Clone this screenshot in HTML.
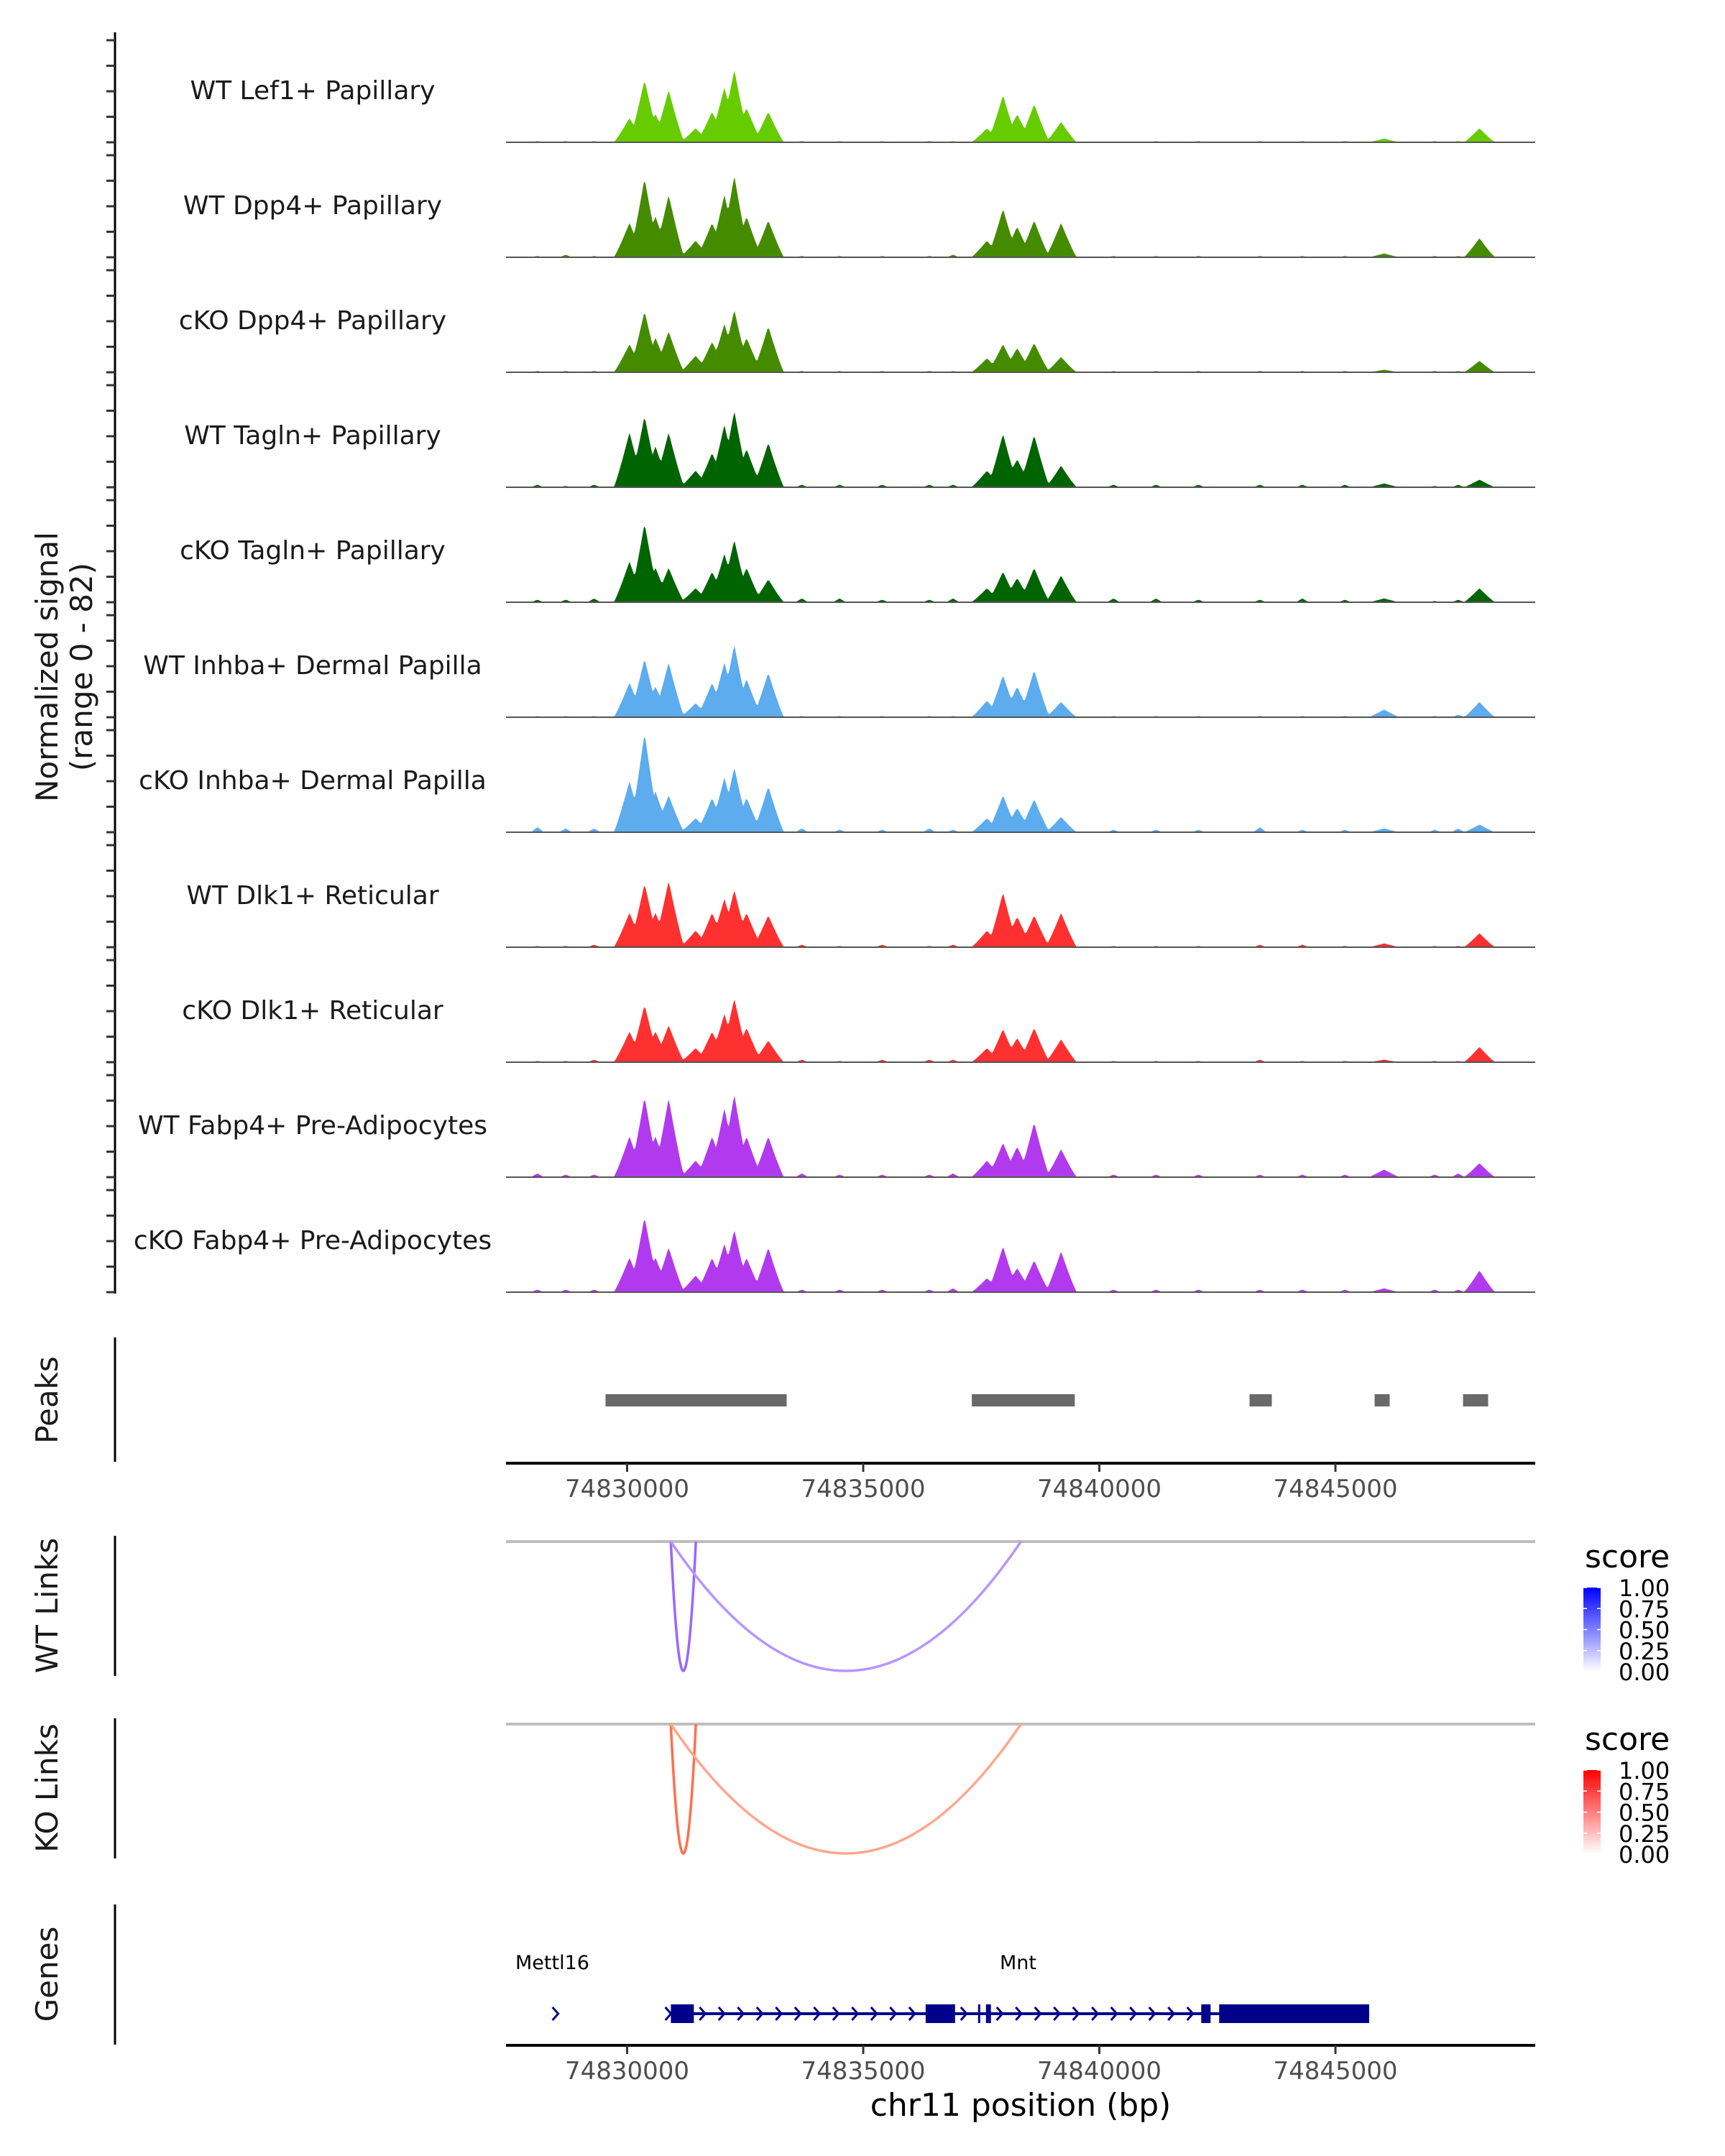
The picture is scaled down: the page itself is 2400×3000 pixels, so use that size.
<!DOCTYPE html>
<html><head><meta charset="utf-8">
<style>
html,body{margin:0;padding:0;background:#fff;}
svg{display:block;font-family:"DejaVu Sans","Liberation Sans",sans-serif;}
</style></head>
<body>
<svg id="chart" width="2400" height="3000" viewBox="0 0 2400 3000" xmlns="http://www.w3.org/2000/svg">
<rect width="2400" height="3000" fill="#fff"/>
<g id="tracks"></g>
<g id="yaxis"></g>
<text transform="translate(80,928) rotate(-90)" text-anchor="middle" font-size="42" fill="#1a1a1a">Normalized signal</text>
<text transform="translate(128,928) rotate(-90)" text-anchor="middle" font-size="42" fill="#1a1a1a">(range 0 - 82)</text>
<g id="peaks"></g>
<g id="links"></g>
<g id="genes"></g>
</svg>
<script>
// ---------- data ----------
const trackNames = ["WT Lef1+ Papillary","WT Dpp4+ Papillary","cKO Dpp4+ Papillary","WT Tagln+ Papillary","cKO Tagln+ Papillary","WT Inhba+ Dermal Papilla","cKO Inhba+ Dermal Papilla","WT Dlk1+ Reticular","cKO Dlk1+ Reticular","WT Fabp4+ Pre-Adipocytes","cKO Fabp4+ Pre-Adipocytes"];
const trackColors = ["#66cc00","#458b00","#458b00","#006400","#006400","#5cacee","#5cacee","#ff3030","#ff3030","#b23aee","#b23aee"];
const peakPositions = [74830050,74830370,74830600,74830880,74831450,74831800,74832060,74832270,74832530,74832990,74837620,74837960,74838260,74838620,74839190,74846030,74848050];
const sigLef1WT  = [19,49,22,41,11,24,43,57,27,24,11,37,22,30,16,3,11];
const sigDpp4WT  = [27,62,32,49,13,27,49,64,32,29,13,38,24,29,27,3,15];
const sigDpp4KO  = [22,48,27,32,13,24,38,49,27,36,11,22,19,23,12,2,9];
const sigTaglnWT = [43,56,32,43,13,27,49,60,30,35,13,42,22,41,17,3,6];
const sigTaglnKO = [32,62,27,27,11,24,38,49,27,18,11,24,19,27,21,3,11];
const sigInhbaWT = [27,46,24,43,11,27,43,57,30,35,13,33,24,37,12,6,12];
const sigInhbaKO = [40,78,32,29,11,27,43,51,27,36,11,29,19,26,12,3,6];
const sigDlk1WT  = [27,50,27,52,13,27,38,45,27,25,13,43,24,25,27,3,11];
const sigDlk1KO  = [24,45,24,29,11,24,38,50,27,17,11,26,19,27,18,2,12];
const sigFabp4WT = [32,63,32,62,13,32,54,65,32,32,13,27,24,43,22,6,11];
const sigFabp4KO = [27,59,27,35,13,27,38,49,27,35,11,36,19,25,32,3,17];
const bgPositions = [74828100,74828700,74829300,74833700,74834500,74835400,74836400,74836900,74840300,74841200,74842100,74843400,74844300,74845200,74847100,74847600];
const bgLef1WT  = [1,1,1,1,1,1,1,1,0,1,1,1,1,1,1,1];
const bgDpp4WT  = [1,2,1,1,1,1,1,2,1,1,1,1,1,1,1,1];
const bgDpp4KO  = [1,1,1,1,1,1,1,1,1,1,1,1,1,1,1,1];
const bgTaglnWT = [2,1,2,2,2,2,2,2,2,2,2,2,2,2,1,2];
const bgTaglnKO = [2,2,3,3,3,2,2,3,3,3,2,2,3,2,1,2];
const bgInhbaWT = [1,1,1,1,1,1,1,1,1,1,1,1,1,1,1,2];
const bgInhbaKO = [4,3,3,3,2,2,3,2,2,2,2,4,2,2,2,3];
const bgDlk1WT  = [1,1,2,2,1,2,1,2,1,1,1,2,2,1,1,1];
const bgDlk1KO  = [1,1,2,2,1,2,2,2,1,1,1,2,1,1,1,1];
const bgFabp4WT = [3,2,2,3,2,2,2,3,2,2,2,2,2,2,2,3];
const bgFabp4KO = [2,2,2,2,2,2,2,3,2,2,2,2,2,2,2,2];
const trackSignals = [sigLef1WT,sigDpp4WT,sigDpp4KO,sigTaglnWT,sigTaglnKO,sigInhbaWT,sigInhbaKO,sigDlk1WT,sigDlk1KO,sigFabp4WT,sigFabp4KO];
const trackBg = [bgLef1WT,bgDpp4WT,bgDpp4KO,bgTaglnWT,bgTaglnKO,bgInhbaWT,bgInhbaKO,bgDlk1WT,bgDlk1KO,bgFabp4WT,bgFabp4KO];
const signalTicks = [0,20,40,60,80];
const xTicks = [74830000,74835000,74840000,74845000];
const xTickLabels = ["74830000","74835000","74840000","74845000"];
const peakStarts = [74829543,74837300,74843181,74845830,74847702];
const peakEnds   = [74833379,74839480,74843653,74846149,74848234];
const linkStarts = [74830925,74830925];
const linkEnds   = [74831456,74838340];
const linkScores = [0.6,0.45];
const wtLinkColors = ["#9966ff","#b794ff"];
const koLinkColors = ["#ff6f4f","#ffa68c"];
const legendTicks = [0,0.25,0.5,0.75,1];
const legendTickLabels = ["0.00","0.25","0.50","0.75","1.00"];
const mntStart = 74830900, mntEnd = 74845714;
const mntExonStarts = [74830927,74836322,74837432,74837599,74842158,74842538];
const mntExonEnds   = [74831413,74836945,74837462,74837705,74842356,74845714];
const mettl16Pos = 74828480;

// ---------- scales ----------
const X0 = 704, X1 = 2136;
const x = bp => 872.5 + (bp - 74830000) * 0.0657;
const base0 = 198, trackStep = 160, pxPerUnit = 1.775;
const NS = "http://www.w3.org/2000/svg";
function mk(tag, attrs, parent){ const e=document.createElementNS(NS,tag); for(const k in attrs) e.setAttribute(k,attrs[k]); parent.appendChild(e); return e; }

// ---------- coverage tracks ----------
const gT = document.getElementById('tracks');
trackNames.forEach((name,i)=>{
  const base = base0 + i*trackStep;
  const g = mk('g',{},gT);
  
  
  const sig = trackSignals[i], bg = trackBg[i];
  let d = `M${X0} ${base}`;
  for(let px=X0; px<=X1; px+=2){
    let v=0;
    peakPositions.forEach((p,k)=>{ const dd=Math.abs(px-x(p))/22; if(dd<1) v=Math.max(v,sig[k]*Math.pow(1-dd,1.15)); });
    bgPositions.forEach((p,k)=>{ const dd=Math.abs(px-x(p))/9; if(dd<1) v=Math.max(v,bg[k]*(1-dd)); });
    d += ` L${px} ${(base - v*pxPerUnit).toFixed(1)}`;
  }
  d += ` L${X1} ${base} Z`;
  const area = mk('path',{d:d,fill:trackColors[i]},g);
  
  
  const bl = mk('line',{x1:X0,x2:X1,y1:base,y2:base,stroke:'#555',"stroke-width":2},g);
  
  
  const t = mk('text',{x:435,y:base-60,"text-anchor":"middle","font-size":36,fill:"#1a1a1a"},g);
  t.textContent = name;
  
  
});

// ---------- y axis ----------
const gY = document.getElementById('yaxis');
const axl = mk('line',{x1:160,x2:160,y1:45,y2:base0+10*trackStep+2,stroke:'#000',"stroke-width":3},gY);


trackNames.forEach((n,i)=>{
  const base = base0 + i*trackStep;
  signalTicks.forEach(v=>{
    const tk = mk('line',{x1:148,x2:160,y1:base-v*pxPerUnit,y2:base-v*pxPerUnit,stroke:'#333',"stroke-width":3},gY);
    
    
  });
});

// ---------- x axis helper ----------
function xAxis(parent, y, name){
  const g = mk('g',{},parent);
  
  
  mk('line',{x1:X0,x2:X1,y1:y,y2:y,stroke:'#000',"stroke-width":4},g);
  xTicks.forEach((t,k)=>{
    mk('line',{x1:x(t),x2:x(t),y1:y,y2:y+12,stroke:'#333',"stroke-width":3},g);
    const lb = mk('text',{x:x(t),y:y+47,"text-anchor":"middle","font-size":34,fill:"#4d4d4d"},g);
    lb.textContent = xTickLabels[k];
    
    
  });
}
function panelLeft(parent, y1, y2, cy, label, name){
  mk('line',{x1:160,x2:160,y1:y1,y2:y2,stroke:'#000',"stroke-width":3},parent);
  const t = mk('text',{transform:`translate(80,${cy}) rotate(-90)`,"text-anchor":"middle","font-size":42,fill:"#1a1a1a"},parent);
  t.textContent = label;
  
  
}

// ---------- peaks ----------
const gP = document.getElementById('peaks');
panelLeft(gP,1861,2034,1948,'Peaks','peaks-title');
peakStarts.forEach((s,k)=>{
  const r = mk('rect',{x:x(s),y:1940,width:x(peakEnds[k])-x(s),height:17,fill:'#696969'},gP);
  
  
});
xAxis(gP,2036,'peaks-x-axis');

// ---------- links ----------
const gL = document.getElementById('links');
function linkPanel(y0, colors, gradTop, label, name, gid){
  const g = mk('g',{},gL);
  
  
  panelLeft(g,y0-8,y0+187,y0+89,label,name+'-title');
  mk('line',{x1:X0,x2:X1,y1:y0,y2:y0,stroke:'#bebebe',"stroke-width":4},g);
  const depth = 180;
  linkStarts.forEach((s,k)=>{
    const a=x(s), b=x(linkEnds[k]);
    const p = mk('path',{d:`M${a} ${y0} Q${(a+b)/2} ${y0+2*depth} ${b} ${y0}`,fill:'none',stroke:colors[k],"stroke-width":3.5},g);
    
    
  });
  const lg = mk('g',{},g);
  
  
  const defs = mk('defs',{},lg);
  const grad = mk('linearGradient',{id:gid,x1:0,y1:1,x2:0,y2:0},defs);
  mk('stop',{offset:'0',"stop-color":'#ffffff'},grad);
  mk('stop',{offset:'1',"stop-color":gradTop},grad);
  const lt = mk('text',{x:2205,y:y0+36,"font-size":44,fill:'#000'},lg);
  lt.textContent='score';
  const top = y0+64, bot = y0+181;
  mk('rect',{x:2203,y:top,width:24,height:bot-top,fill:`url(#${gid})`},lg);
  legendTicks.forEach((v,k)=>{
    const yy = bot - v*(bot-top);
    mk('line',{x1:2203,x2:2208,y1:yy,y2:yy,stroke:'#fff',"stroke-width":1.5},lg);
    mk('line',{x1:2222,x2:2227,y1:yy,y2:yy,stroke:'#fff',"stroke-width":1.5},lg);
    const tt = mk('text',{x:2252,y:yy+12,"font-size":32,fill:'#000'},lg);
    tt.textContent = legendTickLabels[k];
  });
}
linkPanel(2145, wtLinkColors, '#0000ff', 'WT Links', 'wt-links', 'gradWT');
linkPanel(2399, koLinkColors, '#ff0000', 'KO Links', 'ko-links', 'gradKO');

// ---------- genes ----------
const gG = document.getElementById('genes');
panelLeft(gG,2650,2845,2747,'Genes','genes-title');
const gy = 2802, navy = '#00008b';
const ln = mk('line',{x1:x(mntStart),x2:x(mntEnd),y1:gy,y2:gy,stroke:navy,"stroke-width":4},gG);


function chevron(cx){ mk('path',{d:`M${cx-4} ${gy-9} L${cx+4} ${gy} L${cx-4} ${gy+9}`,fill:'none',stroke:navy,"stroke-width":3},gG); }
chevron(x(mntStart)-2);
for(let k=0;k<mntExonStarts.length-1;k++){
  const a = x(mntExonEnds[k])+12, b = x(mntExonStarts[k+1])-6;
  for(let c=a; c<b; c+=26.5) chevron(c);
}
mntExonStarts.forEach((s,k)=>{
  const r = mk('rect',{x:x(s),y:gy-13,width:Math.max(3,x(mntExonEnds[k])-x(s)),height:26,fill:navy},gG);
  
  
});
chevron(x(mettl16Pos));
const m1 = mk('text',{x:717,y:2740,"font-size":27,fill:'#000'},gG);
m1.textContent='Mettl16';


const m2 = mk('text',{x:1391,y:2740,"font-size":27,fill:'#000'},gG);
m2.textContent='Mnt';


xAxis(gG,2846,'genes-x-axis');
const xt = mk('text',{x:(X0+X1)/2,y:2944,"text-anchor":"middle","font-size":44,fill:'#000'},gG);
xt.textContent='chr11 position (bp)';


</script>
</body></html>
